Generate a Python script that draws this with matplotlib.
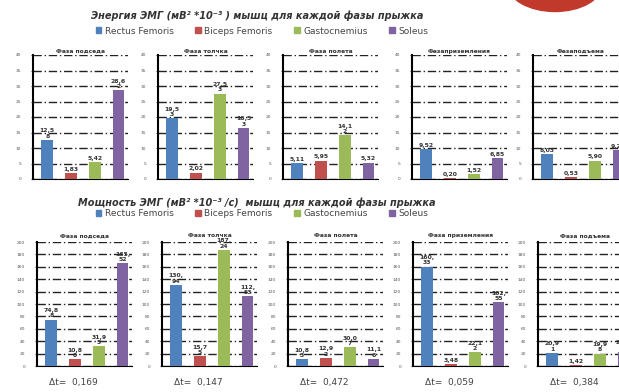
import matplotlib.pyplot as plt
from matplotlib.patches import Ellipse, Patch

# muscles and jump phases
muscles = ["Rectus Femoris", "Biceps Femoris", "Gastocnemius", "Soleus"]
colors = ["#4f81bd", "#c0504d", "#9bbb59", "#8064a2"]
phases = ["Фаза подседа", "Фаза толчка", "Фаза полета", "Фазаприземления", "Фазаподъема"]
phases_power = ["Фаза подседа", "Фаза толчка", "Фаза полета", "Фаза приземления", "Фаза подъема"]

# EMG energy, one list per phase (Rectus, Biceps, Gastocnemius, Soleus)
energy_podsed = [12.58, 1.83, 5.42, 28.62]
energy_tolchok = [19.53, 2.02, 27.53, 16.53]
energy_polet = [5.11, 5.95, 14.12, 5.32]
energy_prizem = [9.52, 0.20, 1.52, 6.85]
energy_podjem = [8.03, 0.53, 5.90, 9.25]

# EMG power
power_podsed = [74.88, 10.80, 31.95, 165.52]
power_tolchok = [130.94, 15.75, 187.24, 112.53]
power_polet = [10.83, 12.92, 30.07, 11.16]
power_prizem = [160.33, 3.48, 22.12, 102.55]
power_podjem = [20.91, 1.42, 19.98, 22.41]

delta_t = ["0,169", "0,147", "0,472", "0,059", "0,384"]

energy = [energy_podsed, energy_tolchok, energy_polet, energy_prizem, energy_podjem]
power = [power_podsed, power_tolchok, power_polet, power_prizem, power_podjem]

W, H = 619, 392
fig = plt.figure(figsize=(W / 100, H / 100), dpi=100)
fig.patch.set_facecolor("white")


def fmt(v):
    # comma decimal, wrapped after 4 characters like the narrow excel labels
    s = ("%.2f" % v).replace(".", ",")
    if len(s) > 4:
        s = s[:4] + "\n" + s[4:]
    return s


def panel(left, bottom, width, height, vals, title, ymax, step, pad=1.5):
    ax = fig.add_axes([left / W, 1 - bottom / H, width / W, height / H])
    x = range(len(vals))
    ax.bar(x, vals, width=0.5, color=colors, zorder=3)
    ax.set_xlim(-0.6, 3.4)
    ax.set_ylim(0, ymax)
    ax.set_yticks(range(0, ymax + 1, step))
    ax.set_xticks([])
    ax.tick_params(axis="y", labelsize=3.2, colors="#555555", length=1.5, pad=7)
    ax.grid(axis="y", color="#222222", linestyle=(0, (6, 2, 1, 2)), linewidth=1.0, zorder=1)
    for side in ["top", "right"]:
        ax.spines[side].set_visible(False)
    ax.spines["left"].set_linewidth(1.5)
    ax.spines["bottom"].set_linewidth(0.8)
    ax.set_title(title, fontsize=4.3, fontweight="bold", color="#333333", pad=pad)
    for i, v in enumerate(vals):
        ax.text(i, v + ymax * 0.01, fmt(v), ha="center", va="bottom",
                fontsize=4.4, color="#333333", fontweight="bold", linespacing=1.1, zorder=4)
    return ax


top_lefts = [33, 158, 283, 412, 533]
for k in range(5):
    panel(top_lefts[k], 179, 95, 124, energy[k], phases[k], 40, 5)

bottom_lefts = [37, 162, 288, 413, 538]
for k in range(5):
    panel(bottom_lefts[k], 366, 95, 124, power[k], phases_power[k], 200, 20, pad=3.5)
    fig.text((bottom_lefts[k] + 36) / W, 1 - 383 / H, "Δt=  " + delta_t[k],
             ha="center", va="center", fontsize=6.5, color="#444444")

fig.text(257 / W, 1 - 16 / H, "Энергия ЭМГ (мВ² *10⁻³ ) мышц для каждой фазы прыжка",
         ha="center", va="center", fontsize=7, style="italic", fontweight="bold", color="#333333")
fig.text(257 / W, 1 - 203 / H, "Мощность ЭМГ (мВ² *10⁻³ /с)  мышц для каждой фазы прыжка",
         ha="center", va="center", fontsize=7, style="italic", fontweight="bold", color="#333333")

handles = [Patch(color=c, label=m) for c, m in zip(colors, muscles)]
for y in [31, 214]:
    fig.legend(handles=handles, loc="center", bbox_to_anchor=(262 / W, 1 - y / H), ncol=4,
               frameon=False, fontsize=6.5, handlelength=0.6, handleheight=0.6,
               handletextpad=0.4, columnspacing=2.4, labelcolor="#444444")

# red badge in the top right corner
fig.patches.append(Ellipse((555 / W, 1 + 16 / H), 95 / W, 55 / H,
                           transform=fig.transFigure, color="#c0392b"))

fig.savefig("out.png", dpi=100)
